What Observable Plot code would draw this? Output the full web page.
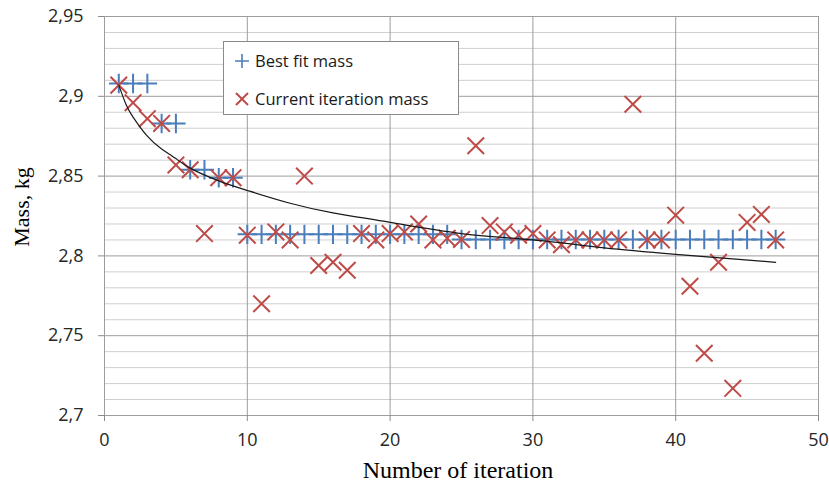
<!DOCTYPE html>
<html>
<head>
<meta charset="utf-8">
<script src="https://cdn.jsdelivr.net/npm/d3@7"></script>
<script src="https://cdn.jsdelivr.net/npm/@observablehq/plot@0.6"></script>
<style>
html, body { margin: 0; padding: 0; background: #fff; }
#wrap { position: relative; width: 829px; height: 488px; }
#legend { position: absolute; left: 223px; top: 41px; width: 234px; height: 72px;
  border: 1px solid #8a8a8a; background: #fff; font-family: "Open Sans", sans-serif;
  font-size: 16.5px; color: #1a1a1a; }
.item { position: absolute; left: 0; height: 24px; line-height: 24px; white-space: nowrap; }
.item svg { position: absolute; left: 10px; top: 4px; }
.item span { position: absolute; left: 31px; top: 0; }
</style>
</head>
<body>
<div id="wrap">
  <div id="chart"></div>
  <div id="legend">
    <div class="item" style="top:7px"><svg width="16" height="16"><path d="M8,1V15M1,8H15" stroke="#4a7ebb" stroke-width="1.6" fill="none"/></svg><span id="lab1"></span></div>
    <div class="item" style="top:45px"><svg width="16" height="16"><path d="M2,2L14,14M2,14L14,2" stroke="#be4b48" stroke-width="2" fill="none"/></svg><span id="lab2"></span></div>
  </div>
</div>
<script>
// ---- data ----
const iterations = [1,2,3,4,5,6,7,8,9,10,11,12,13,14,15,16,17,18,19,20,21,22,23,24,25,26,27,28,29,30,31,32,33,34,35,36,37,38,39,40,41,42,43,44,45,46,47];
const currentMass = [2.907,2.896,2.886,2.883,2.857,2.854,2.814,2.849,2.849,2.813,
  2.770,2.815,2.810,2.850,2.794,2.796,2.791,2.814,2.810,2.814,
  2.815,2.820,2.810,2.811,2.8103,2.869,2.819,2.815,2.813,2.814,
  2.810,2.807,2.810,2.810,2.810,2.810,2.895,2.810,2.810,2.8255,
  2.781,2.739,2.796,2.717,2.821,2.826,2.810];
const bestFitMass = [2.908,2.908,2.908,2.883,2.883,2.854,2.854,2.849,2.849,2.8135,
  2.8135,2.8135,2.8135,2.8135,2.8135,2.8135,2.8135,2.8135,2.8135,2.8135,
  2.8135,2.8135,2.8135,2.8135,2.8103,2.8103,2.8103,2.8103,2.8103,2.8103,
  2.8103,2.8103,2.8103,2.8103,2.8103,2.8103,2.8103,2.8103,2.8103,2.8103,
  2.8103,2.8103,2.8103,2.8103,2.8103,2.8103,2.8103];
const trendIter = [1,1.5,2,3,4,5,6,8,10,13,16,20,25,30,35,40,47];
const trendMass = [2.907,2.895,2.887,2.875,2.867,2.861,2.855,2.847,2.841,2.833,2.827,2.821,2.814,2.810,2.805,2.801,2.796];
const xTicks = [0,10,20,30,40,50];
const yTicks = [2.7,2.75,2.8,2.85,2.9,2.95];
const yMinor = [2.71,2.72,2.73,2.74,2.76,2.77,2.78,2.79,2.81,2.82,2.83,2.84,2.86,2.87,2.88,2.89,2.91,2.92,2.93,2.94];
const seriesNames = ["Best fit mass", "Current iteration mass"];
const xTitle = "Number of iteration";
const yTitle = "Mass, kg";

const best = iterations.map((i, k) => ({i, m: bestFitMass[k]}));
const current = iterations.map((i, k) => ({i, m: currentMass[k]}));
const trend = trendIter.map((i, k) => ({i, m: trendMass[k]}));

const chart = Plot.plot({
  width: 829, height: 488,
  marginLeft: 104, marginRight: 11, marginTop: 16, marginBottom: 73,
  x: {domain: [0, 50]},
  y: {domain: [2.7, 2.95]},
  style: {fontFamily: "'Open Sans', sans-serif", fontSize: "18px", color: "#262626", background: "white"},
  marks: [
    Plot.ruleY(yMinor, {stroke: "#cfcfcf", strokeWidth: 1}),
    Plot.ruleY(yTicks, {stroke: "#9d9d9d", strokeWidth: 1}),
    Plot.ruleX(xTicks, {stroke: "#9d9d9d", strokeWidth: 1}),
    Plot.axisY({ticks: yTicks, tickFormat: d => String(d).replace(".", ","), tickSize: 6, tickPadding: 15, label: null, stroke: "#8a8a8a"}),
    Plot.axisX({ticks: xTicks, tickSize: 6, tickPadding: 12, label: null, stroke: "#8a8a8a"}),
    Plot.dot(best, {x: "i", y: "m", symbol: "plus", r: 6.3, fill: "none", stroke: "#4a7ebb", strokeWidth: 2}),
    Plot.dot(current, {x: "i", y: "m", symbol: "times", r: 7.6, fill: "none", stroke: "#be4b48", strokeWidth: 2}),
    Plot.line(trend, {x: "i", y: "m", curve: "natural", stroke: "#1a1a1a", strokeWidth: 1.2})
  ]
});
document.getElementById("chart").appendChild(chart);

const svg = d3.select(chart);
svg.append("text")
  .attr("transform", "translate(29,207) rotate(-90)")
  .attr("text-anchor", "middle")
  .style("font-family", "'Liberation Serif', serif")
  .style("font-size", "22px")
  .attr("fill", "#000")
  .text(yTitle);
svg.append("text")
  .attr("x", 458).attr("y", 478)
  .attr("text-anchor", "middle")
  .style("font-family", "'Liberation Serif', serif")
  .style("font-size", "24px")
  .attr("fill", "#000")
  .text(xTitle);

document.getElementById("lab1").textContent = seriesNames[0];
document.getElementById("lab2").textContent = seriesNames[1];
</script>
</body>
</html>
